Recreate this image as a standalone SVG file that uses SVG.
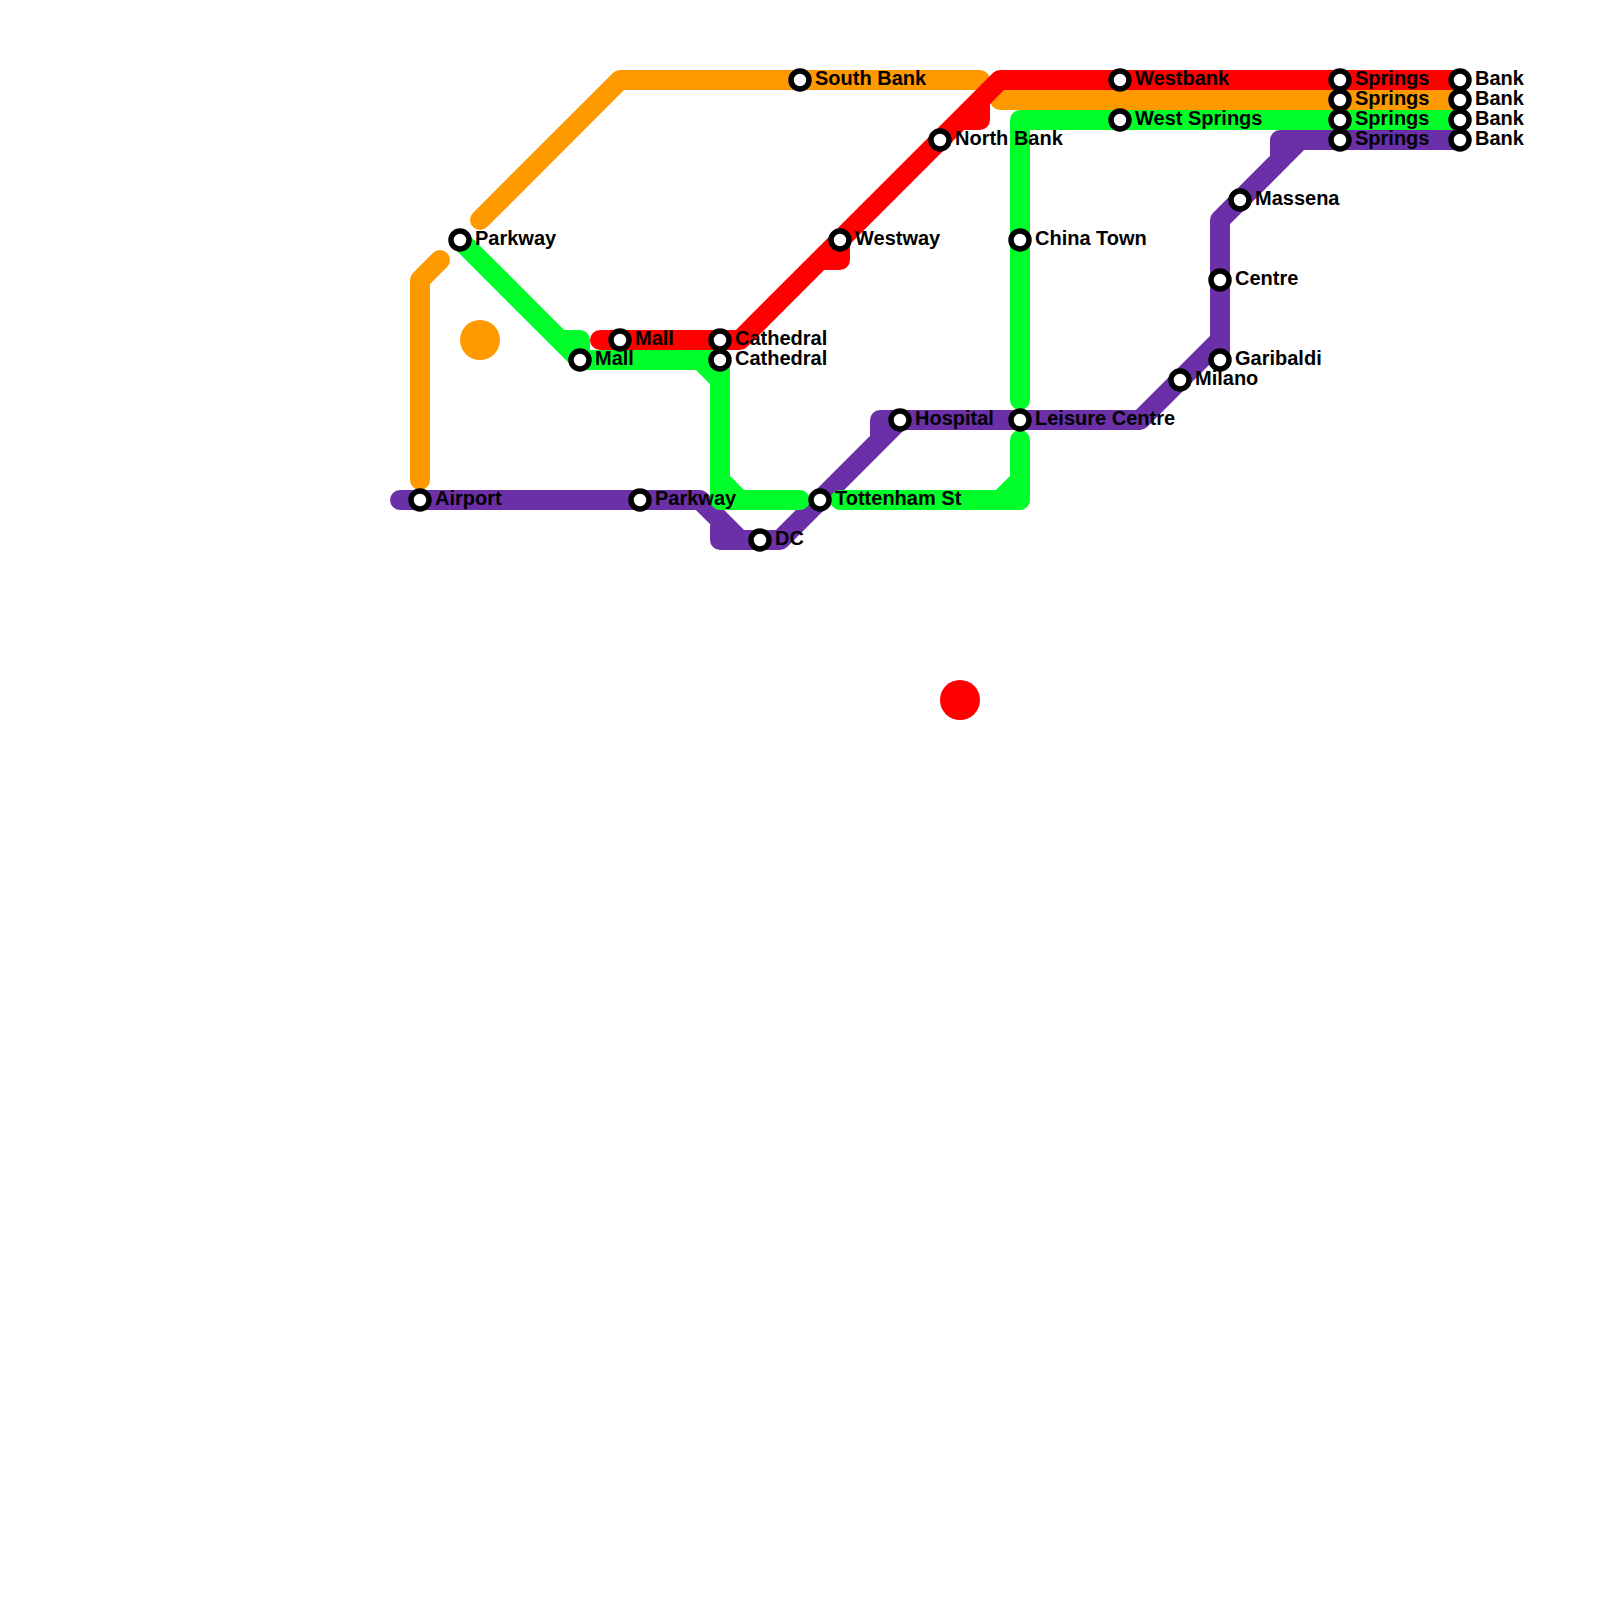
<svg xmlns="http://www.w3.org/2000/svg" width="1600" height="1600" viewBox="0 0 1600 1600">
<style>
.l{fill:none;stroke-width:20;stroke-linecap:round;stroke-linejoin:round}
.p{stroke:#6b30a8}.o{stroke:#ff9900}.r{stroke:#ff0000}.g{stroke:#00ff2a}
.s{fill:#fff;stroke:#000;stroke-width:5.5}
text{font-family:"Liberation Sans",Arial,sans-serif;font-size:20px;font-weight:bold;fill:#000}
</style>
<rect width="1600" height="1600" fill="#fff"/>
<g id="connectors">
<path class="l p" d="M400 500H700L740 540H720V520M720 540H780L900 420H880V440M900 420H1140L1220 340V360M1220 340V220L1300 140H1280V160M1300 140H1460"/>
<path class="l o" d="M420 480V280L440 260M480 220L620 80H980M1000 100H1460"/>
<path class="l r" d="M600 340H740L1000 80H1460M820 260H840V240M960 120H980V100"/>
<path class="l g" d="M460 240L580 360H720V500H800M560 340H580V360M700 360L720 380M720 480L740 500M840 500H1020V440M1000 500L1020 480M1020 400V120H1460"/>
</g>
<g id="dot-orange"><circle cx="480" cy="340" r="20" fill="#ff9900"/></g>
<g id="dot-red"><circle cx="960" cy="700" r="20" fill="#ff0000"/></g>
<g id="n1"><circle class="s" cx="420" cy="500" r="9"/><text x="435" y="505">Airport</text></g>
<g id="n2"><circle class="s" cx="460" cy="240" r="9"/><text x="475" y="245">Parkway</text></g>
<g id="n3"><circle class="s" cx="620" cy="340" r="9"/><text x="635" y="345">Mall</text></g>
<g id="n4"><circle class="s" cx="580" cy="360" r="9"/><text x="595" y="365">Mall</text></g>
<g id="n5"><circle class="s" cx="640" cy="500" r="9"/><text x="655" y="505">Parkway</text></g>
<g id="n6"><circle class="s" cx="720" cy="340" r="9"/><text x="735" y="345">Cathedral</text></g>
<g id="n7"><circle class="s" cx="720" cy="360" r="9"/><text x="735" y="365">Cathedral</text></g>
<g id="n8"><circle class="s" cx="760" cy="540" r="9"/><text x="775" y="545">DC</text></g>
<g id="n9"><circle class="s" cx="820" cy="500" r="9"/><text x="835" y="505">Tottenham St</text></g>
<g id="n10"><circle class="s" cx="800" cy="80" r="9"/><text x="815" y="85">South Bank</text></g>
<g id="n11"><circle class="s" cx="900" cy="420" r="9"/><text x="915" y="425">Hospital</text></g>
<g id="n12"><circle class="s" cx="1020" cy="420" r="9"/><text x="1035" y="425">Leisure Centre</text></g>
<g id="n13"><circle class="s" cx="1020" cy="240" r="9"/><text x="1035" y="245">China Town</text></g>
<g id="n14"><circle class="s" cx="940" cy="140" r="9"/><text x="955" y="145">North Bank</text></g>
<g id="n15"><circle class="s" cx="840" cy="240" r="9"/><text x="855" y="245">Westway</text></g>
<g id="n16"><circle class="s" cx="1120" cy="80" r="9"/><text x="1135" y="85">Westbank</text></g>
<g id="n17"><circle class="s" cx="1120" cy="120" r="9"/><text x="1135" y="125">West Springs</text></g>
<g id="n18"><circle class="s" cx="1340" cy="80" r="9"/><text x="1355" y="85">Springs</text></g>
<g id="n19"><circle class="s" cx="1340" cy="100" r="9"/><text x="1355" y="105">Springs</text></g>
<g id="n20"><circle class="s" cx="1340" cy="120" r="9"/><text x="1355" y="125">Springs</text></g>
<g id="n21"><circle class="s" cx="1340" cy="140" r="9"/><text x="1355" y="145">Springs</text></g>
<g id="n22"><circle class="s" cx="1460" cy="80" r="9"/><text x="1475" y="85">Bank</text></g>
<g id="n23"><circle class="s" cx="1460" cy="100" r="9"/><text x="1475" y="105">Bank</text></g>
<g id="n24"><circle class="s" cx="1460" cy="120" r="9"/><text x="1475" y="125">Bank</text></g>
<g id="n25"><circle class="s" cx="1460" cy="140" r="9"/><text x="1475" y="145">Bank</text></g>
<g id="n26"><circle class="s" cx="1240" cy="200" r="9"/><text x="1255" y="205">Massena</text></g>
<g id="n27"><circle class="s" cx="1220" cy="280" r="9"/><text x="1235" y="285">Centre</text></g>
<g id="n28"><circle class="s" cx="1220" cy="360" r="9"/><text x="1235" y="365">Garibaldi</text></g>
<g id="n29"><circle class="s" cx="1180" cy="380" r="9"/><text x="1195" y="385">Milano</text></g>
</svg>
